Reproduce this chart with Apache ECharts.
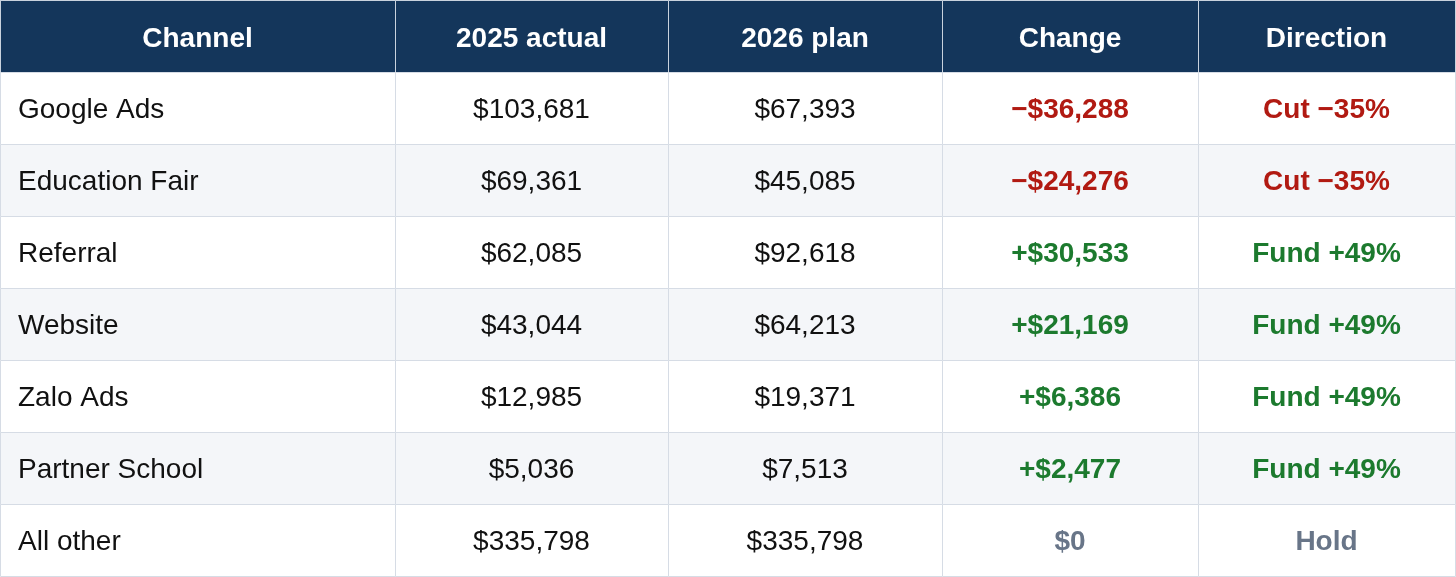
<!DOCTYPE html>
<html lang="en">
<head>
  <meta charset="UTF-8">
  <title>Channel budget 2025 vs 2026</title>
  <script src="https://cdn.jsdelivr.net/npm/echarts@6/dist/echarts.min.js"></script>
  <style>
    html, body { margin: 0; padding: 0; background: #ffffff; }
    #chart { width: 1456px; height: 577px; }
  </style>
</head>
<body>
  <div id="chart"></div>
  <script>
    // table data
    const headers = ['Channel', '2025 actual', '2026 plan', 'Change', 'Direction'];
    const channels = ['Google Ads', 'Education Fair', 'Referral', 'Website', 'Zalo Ads', 'Partner School', 'All other'];
    const actual2025 = [103681, 69361, 62085, 43044, 12985, 5036, 335798];
    const plan2026 = [67393, 45085, 92618, 64213, 19371, 7513, 335798];
    const change = [-36288, -24276, 30533, 21169, 6386, 2477, 0];
    const direction = ['Cut \u221235%', 'Cut \u221235%', 'Fund +49%', 'Fund +49%', 'Fund +49%', 'Fund +49%', 'Hold'];

    // layout (pixel edges of the columns)
    const colEdges = [0, 395, 668, 942, 1198, 1455];
    const FONT = 'Liberation Sans';
    const NAVY = '#14365b';
    const RED = '#b11a12';
    const GREEN = '#1c7a2e';
    const GREY = '#687588';

    function money(v) {
      return '$' + Math.abs(v).toLocaleString('en-US');
    }
    function signed(v) {
      if (v > 0) return '+' + money(v);
      if (v < 0) return '\u2212' + money(v);
      return money(v);
    }
    function toneColor(v) {
      if (v > 0) return GREEN;
      if (v < 0) return RED;
      return GREY;
    }

    // build cells: [col, row, text, color, bold]
    const cells = [];
    headers.forEach((h, c) => cells.push([c, 0, h, '#ffffff', 1]));
    channels.forEach((name, i) => {
      const r = i + 1;
      const tone = toneColor(change[i]);
      cells.push([0, r, name, '#111111', 0]);
      cells.push([1, r, money(actual2025[i]), '#111111', 0]);
      cells.push([2, r, money(plan2026[i]), '#111111', 0]);
      cells.push([3, r, signed(change[i]), tone, 1]);
      cells.push([4, r, direction[i], tone, 1]);
    });

    const chart = echarts.init(document.getElementById('chart'));

    const option = {
      animation: false,
      grid: { left: 0, right: 0, top: 0, bottom: 1 },
      xAxis: { type: 'value', min: 0, max: 1456, show: false },
      yAxis: { type: 'value', min: 0, max: 8, inverse: true, show: false },
      series: [{
        type: 'custom',
        z: 1,
        data: cells,
        renderItem: function (params, api) {
          const c = api.value(0);
          const r = api.value(1);
          const p0 = api.coord([colEdges[c], r]);
          const p1 = api.coord([colEdges[c + 1], r + 1]);
          const x = Math.round(p0[0]) + 0.5;
          const y = Math.round(p0[1]) + 0.5;
          const w = Math.round(p1[0]) - Math.round(p0[0]);
          const h = Math.round(p1[1]) - Math.round(p0[1]);
          const isHeader = r === 0;
          const fill = isHeader ? NAVY : (r % 2 === 0 ? '#f4f6f9' : '#ffffff');
          return {
            type: 'rect',
            shape: { x: x, y: y, width: w, height: h },
            style: { fill: fill, stroke: isHeader ? '#c9d2dd' : '#d6dce5', lineWidth: 1 }
          };
        }
      }]
    };

    chart.setOption(option);

    // cell texts, placed through the grid's scales
    const texts = cells.map(cell => {
      const c = cell[0], r = cell[1];
      const left = c === 0 && r > 0;
      const xVal = left ? colEdges[c] + 18 : (colEdges[c] + colEdges[c + 1]) / 2;
      const pt = chart.convertToPixel({ gridIndex: 0 }, [xVal, r + 0.5]);
      return {
        type: 'text',
        x: pt[0],
        y: pt[1] + (r === 0 ? 3 : 2),
        z: 100,
        zlevel: 1,
        silent: true,
        style: {
          text: cell[2],
          align: left ? 'left' : 'center',
          verticalAlign: 'middle',
          fill: cell[3],
          fontFamily: FONT,
          fontSize: 28,
          fontWeight: cell[4] ? 'bold' : 'normal'
        }
      };
    });
    chart.setOption({ graphic: { elements: texts } });
  </script>
</body>
</html>
